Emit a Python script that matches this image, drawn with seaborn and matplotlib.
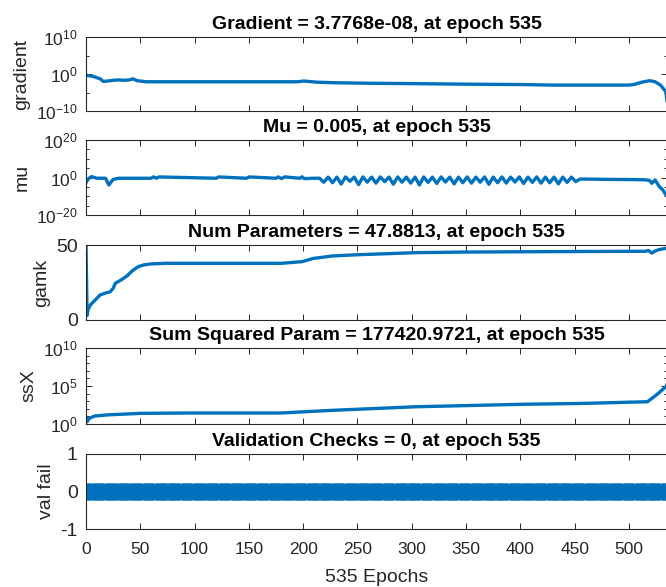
import numpy as np
import pandas as pd
import matplotlib
matplotlib.use("Agg")
import matplotlib.pyplot as plt
import seaborn as sns
from matplotlib.ticker import FixedLocator, FixedFormatter, NullFormatter

# ---------------- data ----------------
grad_epoch = [0, 3, 6, 10, 13, 16, 20, 25, 30, 35, 40, 43, 47, 55, 100, 150, 195, 200,
              205, 212, 227, 260, 300, 350, 400, 430, 460, 500, 505, 512, 519, 524, 529, 534, 535]
grad_log10 = [-0.27, -0.5, -0.6, -1.0, -1.3, -2.0, -1.9, -1.7, -1.6, -1.7, -1.6, -1.3, -1.8, -2.1,
              -2.1, -2.1, -2.1, -1.9, -2.0, -2.2, -2.35, -2.5, -2.6, -2.75, -2.85, -3.0, -3.0, -3.0,
              -2.8, -2.2, -1.8, -2.1, -3.0, -4.8, -7.42]

mu_epoch = [0, 2, 5, 10, 18, 21, 25, 30, 60, 62, 65, 67, 120, 122, 148, 150, 175, 177, 180, 183,
            197, 199, 201, 210, 215, 219, 223, 227, 231, 235, 239, 243, 247, 251, 255, 259, 263,
            267, 271, 275, 279, 283, 287, 291, 295, 299, 303, 307, 311, 315, 319, 323, 327, 331,
            335, 339, 343, 347, 351, 355, 359, 363, 367, 371, 375, 379, 383, 387, 391, 395, 399,
            403, 407, 411, 415, 419, 423, 427, 431, 435, 439, 443, 447, 451, 455, 480, 500, 512,
            516, 519, 521, 524, 528, 531, 534, 535]
mu_log10 = [-2.8, -0.8, 0.5, -0.4, -0.4, -4.0, -1.0, -0.4, -0.4, 0.3, -0.4, 0.3, -0.4, 0.3, -0.4,
            0.3, -0.4, 0.3, -0.6, 0.3, -0.4, 0.4, -0.6, -0.4, -0.4, -2.5, 0.2, -2.8, 0.2, -3.5,
            0.3, -2.0, 0.2, -3.8, 0.3, -2.5, 0.2, -3.0, 0.3, -2.2, 0.2, -3.6, 0.3, -2.5, 0.2, -3.0,
            0.2, -4.0, 0.3, -2.6, 0.2, -3.2, 0.3, -2.4, 0.2, -3.4, 0.2, -2.8, 0.3, -3.0, 0.2, -2.5,
            0.3, -3.6, 0.2, -2.8, 0.3, -3.0, 0.2, -2.4, 0.3, -3.2, 0.2, -2.6, 0.3, -3.0, 0.2, -2.8,
            0.2, -3.4, 0.2, -2.6, 0.2, -2.2, -0.8, -1.0, -1.1, -1.2, -1.3, -1.6, -3.1, -1.3, -4.9,
            -6.5, -9.3, -10.0]

gamk_epoch = [0, 1, 2, 4, 8, 13, 18, 22, 25, 27, 33, 38, 40, 43, 48, 53, 60, 74, 180, 199, 209,
              227, 250, 304, 350, 404, 500, 515, 518, 521, 524, 528, 535]
gamk_val = [50.0, 3.0, 7.0, 10.0, 13.0, 16.7, 18.0, 18.7, 21.0, 24.5, 27.0, 29.5, 31.0, 33.0, 35.5,
            36.7, 37.4, 37.8, 37.8, 38.9, 41.0, 42.7, 43.5, 44.9, 45.3, 45.5, 45.8, 45.8, 46.3,
            44.6, 46.0, 47.0, 47.88]

ssx_epoch = [0, 1, 3, 8, 20, 50, 100, 180, 200, 227, 304, 404, 455, 517, 525, 534, 535]
ssx_log10 = [0.96, 0.3, 0.75, 1.05, 1.2, 1.4, 1.45, 1.45, 1.6, 1.8, 2.27, 2.6, 2.7, 2.93, 3.8,
             4.9, 5.25]

val_epoch = list(range(0, 536))
val_fail = [0] * 536

titles = ["Gradient = 3.7768e-08, at epoch 535",
          "Mu = 0.005, at epoch 535",
          "Num Parameters = 47.8813, at epoch 535",
          "Sum Squared Param = 177420.9721, at epoch 535",
          "Validation Checks = 0, at epoch 535"]
ylabels = ["gradient", "mu", "gamk", "ssX", "val fail"]
xticks = [0, 50, 100, 150, 200, 250, 300, 350, 400, 450, 500]
xlabel = "535 Epochs"

# ---------------- style ----------------
sns.set_theme(style="white")
plt.rcParams["font.family"] = ["Liberation Sans", "DejaVu Sans"]
plt.rcParams["mathtext.fontset"] = "custom"
plt.rcParams["mathtext.rm"] = "Liberation Sans"
plt.rcParams["mathtext.it"] = "Liberation Sans"
plt.rcParams["mathtext.bf"] = "Liberation Sans:bold"

BLUE = "#0072BD"
DARK = "#262626"
W, H = 666, 587
fig = plt.figure(figsize=(W / 100, H / 100), dpi=100)

boxes = [(37, 111), (140, 215), (245, 320), (348, 424), (454, 529)]
axes = []
for (t, b) in boxes:
    ax = fig.add_axes([86 / W, 1 - b / H, 581 / W, (b - t) / H])
    axes.append(ax)

df_g = pd.DataFrame({"epoch": grad_epoch, "v": 10.0 ** np.array(grad_log10)})
df_m = pd.DataFrame({"epoch": mu_epoch, "v": 10.0 ** np.array(mu_log10)})
df_k = pd.DataFrame({"epoch": gamk_epoch, "v": gamk_val})
df_s = pd.DataFrame({"epoch": ssx_epoch, "v": 10.0 ** np.array(ssx_log10)})
df_v = pd.DataFrame({"epoch": val_epoch, "v": val_fail})

lw = 2.4
sns.lineplot(data=df_g, x="epoch", y="v", ax=axes[0], color=BLUE, lw=lw, estimator=None, sort=False)
sns.lineplot(data=df_m, x="epoch", y="v", ax=axes[1], color=BLUE, lw=lw, estimator=None, sort=False)
sns.lineplot(data=df_k, x="epoch", y="v", ax=axes[2], color=BLUE, lw=lw, estimator=None, sort=False)
sns.lineplot(data=df_s, x="epoch", y="v", ax=axes[3], color=BLUE, lw=lw, estimator=None, sort=False)
sns.lineplot(data=df_v, x="epoch", y="v", ax=axes[4], color=BLUE, lw=lw, estimator=None, sort=False,
             marker="D", markersize=9, markeredgewidth=0)

LOG_FS = 12.5
LIN_FS = 14

# y scales
axes[0].set_yscale("log"); axes[0].set_ylim(1e-10, 1e10)
axes[0].yaxis.set_major_locator(FixedLocator([1e-10, 1e0, 1e10]))
axes[0].yaxis.set_major_formatter(FixedFormatter([r"$10^{-10}$", r"$10^{0}$", r"$10^{10}$"]))
axes[0].yaxis.set_minor_locator(FixedLocator([1e-5, 1e5]))

axes[1].set_yscale("log"); axes[1].set_ylim(1e-20, 1e20)
axes[1].yaxis.set_major_locator(FixedLocator([1e-20, 1e0, 1e20]))
axes[1].yaxis.set_major_formatter(FixedFormatter([r"$10^{-20}$", r"$10^{0}$", r"$10^{20}$"]))
axes[1].yaxis.set_minor_locator(FixedLocator([10.0 ** e for e in (-15, -10, -5, 5, 10, 15)]))

axes[2].set_ylim(0, 50)
axes[2].yaxis.set_major_locator(FixedLocator([0, 50]))
axes[2].yaxis.set_major_formatter(FixedFormatter(["0", "50"]))

axes[3].set_yscale("log"); axes[3].set_ylim(1e0, 1e10)
axes[3].yaxis.set_major_locator(FixedLocator([1e0, 1e5, 1e10]))
axes[3].yaxis.set_major_formatter(FixedFormatter([r"$10^{0}$", r"$10^{5}$", r"$10^{10}$"]))
axes[3].yaxis.set_minor_locator(FixedLocator([10.0 ** e for e in (1, 2, 3, 4, 6, 7, 8, 9)]))

axes[4].set_ylim(-1, 1)
axes[4].yaxis.set_major_locator(FixedLocator([-1, 0, 1]))
axes[4].yaxis.set_major_formatter(FixedFormatter(["-1", "0", "1"]))

for i, ax in enumerate(axes):
    ax.set_xlim(0, 535)
    ax.xaxis.set_major_locator(FixedLocator(xticks))
    ax.yaxis.set_minor_formatter(NullFormatter())
    ax.tick_params(axis="both", which="major", direction="in", length=4.5, width=0.7,
                   color=DARK, labelcolor=DARK, top=True, right=True,
                   bottom=True, left=True)
    ax.tick_params(axis="y", which="major", pad=6,
                   labelsize=(LIN_FS if i in (2, 4) else LOG_FS))
    ax.tick_params(axis="y", which="minor", direction="in", length=2.5, width=0.7,
                   color=DARK, left=True, right=True)
    ax.tick_params(axis="x", which="minor", bottom=False, top=False)
    ax.tick_params(axis="x", which="major", labelsize=12.5, pad=9)
    for s in ax.spines.values():
        s.set_color(DARK); s.set_linewidth(0.8); s.set_visible(True)
    ax.set_title(titles[i], fontsize=14, fontweight="bold", color="black", pad=6)
    ax.set_ylabel(ylabels[i], fontsize=14, color=DARK, labelpad=4)
    if i < 4:
        ax.set_xlabel("")
        ax.tick_params(axis="x", labelbottom=False)
    else:
        ax.set_xlabel(xlabel, fontsize=14, color=DARK, va="center")
        ax.xaxis.set_label_coords(0.5, -(577 - 529) / 75)

fig.savefig("out.png", dpi=100)
